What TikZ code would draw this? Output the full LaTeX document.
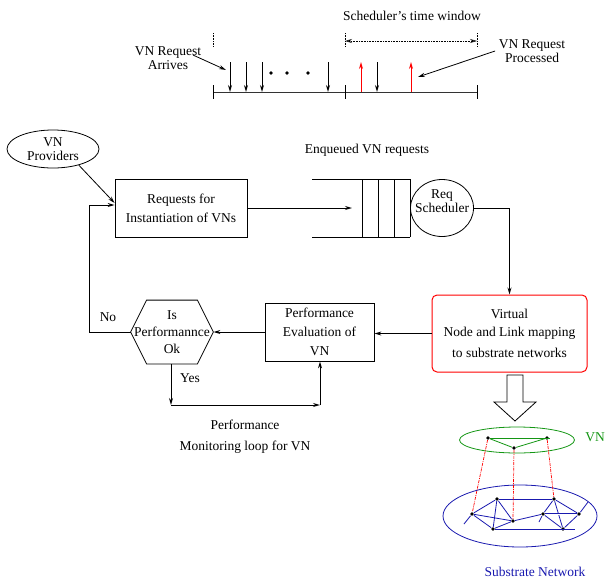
\documentclass[tikz,border=0pt]{standalone}
\usepackage{fontspec}
\setmainfont{Liberation Serif}
\usetikzlibrary{shapes, arrows.meta, positioning}

\definecolor{subblue}{RGB}{25,25,175}
\definecolor{vngreen}{RGB}{20,150,20}

\begin{document}
\begin{tikzpicture}[x=1pt, y=-1pt, line width=0.8pt,
        font=\fontsize{13.5}{15}\selectfont,
        >={Stealth[open, length=7pt, width=4pt]},
        procbox/.style={draw, rectangle, align=center, minimum width=132, minimum height=58},
        flow/.style={->},
        vnode/.style={circle, fill=black, inner sep=0pt, minimum size=3.6pt},
        subedge/.style={subblue},
        vnedge/.style={vngreen},
        mapline/.style={red, densely dash dot, line width=0.7pt}
    ]
        \useasboundingbox (0,0) rectangle (605,581);

        % Time line of the scheduler
        \node (twin) at (412,16) {Scheduler's time window};
        \foreach \x in {213,345,477}
            \draw[densely dotted, line width=0.6pt] (\x,33) -- (\x,47);
        \coordinate (ws) at (345,41);
        \coordinate (we) at (477,41);
        \draw[densely dotted, line width=0.6pt, <->] (ws) -- (we);

        \draw[black!80] (213,92) -- (477,92);
        \foreach \x in {213,345,477}
            \draw (\x,85) -- (\x,99);
        \foreach \x in {230,246,262,328,377}
            \draw[flow] (\x,62) -- (\x,92);
        \foreach \x in {271,287,308}
            \fill (\x,73) circle (1.8);
        \foreach \x in {361,411}
            \draw[flow, red] (\x,92) -- (\x,62);

        \node[align=center, font=\fontsize{13.5}{13.5}\selectfont] (arrv) at (168,58) {VN Request\\Arrives};
        \coordinate (arrtip) at (226,70);
        \draw[flow] ([shift={(-12,-3)}]arrv.east) -- (arrtip);

        \node[align=center, font=\fontsize{13.5}{14}\selectfont] (proc) at (532,51) {VN Request\\Processed};
        \coordinate (proctip) at (418,77);
        \draw[flow] (proc.west) -- (proctip);

        % Request path
        \node[draw, ellipse, inner sep=0pt, minimum width=92, minimum height=38,
              align=center, font=\fontsize{13.5}{14}\selectfont] (prov) at (53,149) {VN\\Providers};
        \node[procbox] (req) at (181,208) {Requests for\\[4pt]Instantiation of VNs};
        \draw[flow] (prov.-32) -- ([yshift=5pt]req.west);

        \node (enq) at (367,150) {Enqueued VN requests};
        \draw (312,179) -- (410,179);
        \draw (312,237) -- (410,237);
        \foreach \x in {362,378,394,410}
            \draw (\x,179) -- (\x,237);
        \coordinate (qin) at (352,208);
        \draw[flow] (req.east) -- (qin);

        \node[draw, ellipse, minimum width=63, minimum height=57] (sched) at (442,208) {};
        \node[align=center, font=\fontsize{13.5}{14}\selectfont] (schedtxt) at (442,201) {Req\\Scheduler};

        \node[draw=red, line width=1pt, rounded corners=5pt, align=center, minimum width=155, minimum height=77] (map)
            at (509.5,333.5) {Virtual\\[3pt]Node and Link mapping\\[6pt]to substrate networks};
        \draw[flow] (sched.east) -| (map.north);

        % Monitoring loop
        \node[procbox, minimum width=109] (perf) at (319.5,332) {Performance\\[4pt]Evaluation of\\[4pt]VN};
        \draw[flow] (map.west) -- (map.west -| perf.east);

        \node[align=center, inner sep=0pt, minimum width=82, minimum height=63] (hex) at (172,332)
            {Is\\[2pt]Performannce\\[2pt]Ok};
        \draw (hex.west) -- ([xshift=16]hex.north west) -- ([xshift=-16]hex.north east) -- (hex.east)
            -- ([xshift=-16]hex.south east) -- ([xshift=16]hex.south west) -- cycle;
        \draw[flow] (perf.west) -- (hex.east);

        \draw[flow] (hex.west) -- ++(-41,0) |- ([yshift=3pt]req.west);
        \node (no) at (108,317) {No};

        \coordinate (ycorner) at (171,405);
        \coordinate (pcorner) at (320,405);
        \draw[flow] (hex.south -| ycorner) -- (ycorner);
        \draw[flow] (ycorner) -- (pcorner);
        \draw[flow] (pcorner) -- (perf.south -| pcorner);
        \node (yes) at (190,378) {Yes};
        \node[align=center] (loop) at (245,437) {Performance\\[6pt]Monitoring loop for VN};

        % Mapping onto the substrate
        \draw (507,375) -- (523,375) -- (523,402) -- (536,402) -- (515,421) -- (494,402) -- (507,402) -- cycle;

        \node[draw=vngreen, ellipse, minimum width=115, minimum height=26] (vnring) at (517,440) {};
        \node[vngreen, anchor=west, inner sep=0pt] (vnlbl) at (585,437) {VN};
        \node[vnode] (v1) at (488,438) {};
        \node[vnode] (v2) at (547,438) {};
        \node[vnode] (v3) at (514,448) {};
        \draw[vnedge] (v1) -- (550,438);
        \draw[vnedge] (v1) -- (v3) -- (v2);

        \node[draw=subblue, ellipse, minimum width=154, minimum height=62] (subring) at (520,516) {};
        \node[subblue] (sublbl) at (535,572) {Substrate Network};
        \node[vnode] (a) at (472,514) {};
        \node[vnode] (b) at (497,499) {};
        \node[vnode] (c) at (493,529) {};
        \node[vnode] (d) at (513,521) {};
        \node[vnode] (e) at (543,514) {};
        \node[vnode] (f) at (554,499) {};
        \node[vnode] (g) at (579,514) {};
        \node[vnode] (h) at (563,529) {};
        \foreach \p/\q in {a/b, a/c, a/d, b/c, b/d, b/f, c/d, d/e, e/f, e/h, f/g, f/h, g/h}
            \draw[subedge] (\p) -- (\q);
        \draw[subedge, double distance=0.8pt] (e) -- (g);
        \draw[subedge] (c) -- (575,529);
        \draw[subedge] (a) -- (464,524);
        \draw[subedge] (e) -- (539,522);
        \draw[subedge] (g) -- (588,502);

        \draw[mapline] (v1) -- (a);
        \draw[mapline] (v3) -- (d);
        \draw[mapline] (v2) -- (f);

    \end{tikzpicture}
\end{document}
